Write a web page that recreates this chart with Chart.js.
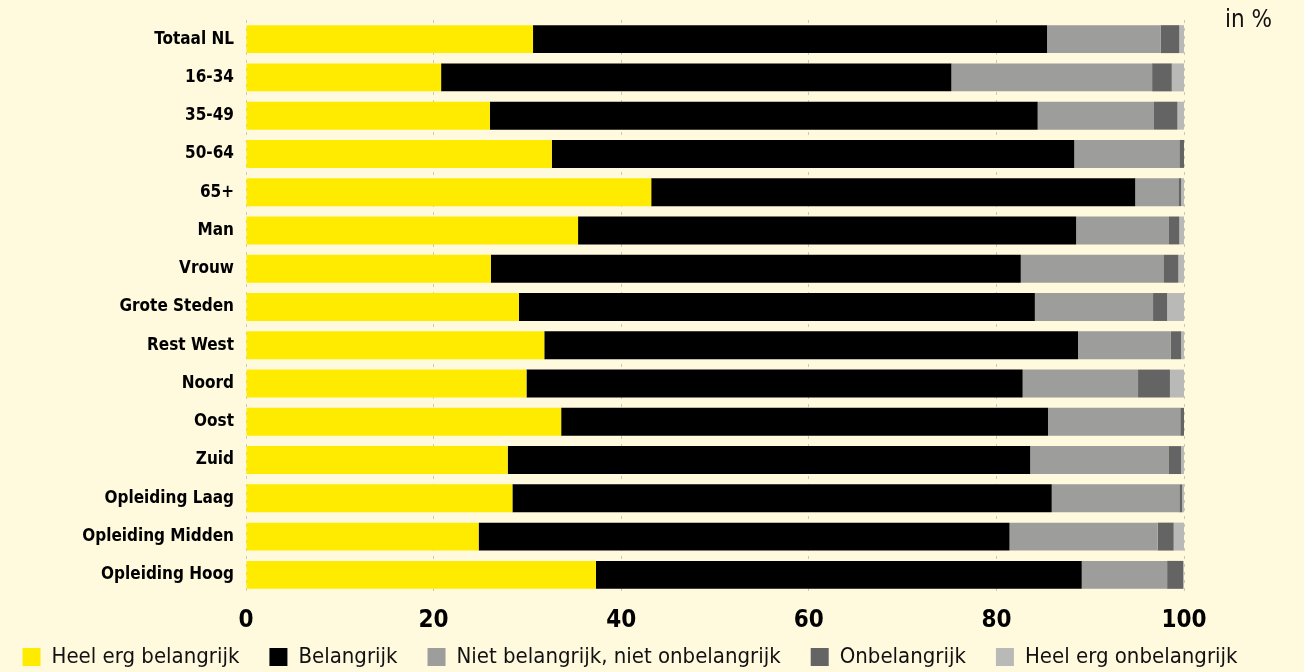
<!DOCTYPE html>
<html>
<head>
<meta charset="utf-8">
<script src="https://cdn.jsdelivr.net/npm/chart.js@4.4.1/dist/chart.umd.min.js"></script>
<style>
  html, body { margin: 0; padding: 0; background: #fff9de; }
  #wrap { position: relative; width: 1304px; height: 672px; }
</style>
</head>
<body>
<div id="wrap"><canvas id="grafiek" width="1304" height="672"></canvas></div>
<script>
const categorieen = ['Totaal NL', '16-34', '35-49', '50-64', '65+', 'Man', 'Vrouw', 'Grote Steden',
  'Rest West', 'Noord', 'Oost', 'Zuid', 'Opleiding Laag', 'Opleiding Midden', 'Opleiding Hoog'];

const heelErgBelangrijk = [30.6, 20.8, 26.0, 32.6, 43.2, 35.4, 26.1, 29.1, 31.8, 29.9, 33.6, 27.9, 28.4, 24.8, 37.3];
const belangrijk        = [54.8, 54.4, 58.4, 55.7, 51.6, 53.1, 56.5, 55.0, 56.9, 52.9, 51.9, 55.7, 57.5, 56.6, 51.8];
const nietNiet          = [12.1, 21.4, 12.4, 11.2, 4.6, 9.9, 15.2, 12.6, 9.9, 12.3, 14.1, 14.8, 13.6, 15.8, 9.1];
const onbelangrijk      = [2.0, 2.1, 2.5, 0.5, 0.3, 1.1, 1.6, 1.5, 1.1, 3.4, 0.4, 1.3, 0.3, 1.7, 1.7];
const heelErgOnbelangrijk = [0.5, 1.3, 0.7, 0, 0.3, 0.5, 0.6, 1.8, 0.3, 1.5, 0, 0.3, 0.2, 1.1, 0.1];

const xTicks = [0, 20, 40, 60, 80, 100];

const fontSmal = "'Liberation Sans Narrow', 'Arial Narrow', 'DejaVu Sans Condensed', sans-serif";

const eenheidPlugin = {
  id: 'eenheid',
  afterLayout(chart) {
    // legenda iets lager en naar links, zoals in het origineel
    const lg = chart.legend;
    if (lg) {
      lg.top = 616;
      lg.left -= 22;
      lg.right -= 22;
    }
  },
  afterDraw(chart) {
    const ctx = chart.ctx;
    ctx.save();
    ctx.font = '24px ' + fontSmal;
    ctx.fillStyle = '#111';
    ctx.textAlign = 'left';
    ctx.textBaseline = 'middle';
    ctx.fillText('in %', 1225, 21);
    ctx.restore();
  }
};

function reeks(label, data, kleur) {
  return {
    label: label,
    data: data,
    backgroundColor: kleur,
    borderWidth: 0,
    barPercentage: 0.73,
    categoryPercentage: 1
  };
}

new Chart(document.getElementById('grafiek').getContext('2d'), {
  type: 'bar',
  data: {
    labels: categorieen,
    datasets: [
      reeks('Heel erg belangrijk', heelErgBelangrijk, '#ffeb00'),
      reeks('Belangrijk', belangrijk, '#000000'),
      reeks('Niet belangrijk, niet onbelangrijk', nietNiet, '#9d9d9b'),
      reeks('Onbelangrijk', onbelangrijk, '#646464'),
      reeks('Heel erg onbelangrijk', heelErgOnbelangrijk, '#b9b9b7')
    ]
  },
  options: {
    indexAxis: 'y',
    responsive: false,
    animation: false,
    layout: { padding: { left: 0, right: 0, top: 20, bottom: 0 } },
    plugins: {
      tooltip: { enabled: false },
      legend: {
        position: 'bottom',
        maxHeight: 36,
        labels: {
          boxWidth: 18,
          boxHeight: 18,
          padding: 30,
          color: '#111',
          font: { family: fontSmal, size: 22 }
        }
      }
    },
    scales: {
      x: {
        stacked: true,
        min: 0,
        max: 100,
        afterBuildTicks(scale) { scale.ticks = xTicks.map(v => ({ value: v })); },
        afterFit(scale) { scale.height = 42; },
        grid: { color: '#cdcabb', lineWidth: 1, drawTicks: false },
        border: { display: false, dash: [3, 5] },
        ticks: {
          padding: 12,
          color: '#000',
          font: { family: fontSmal, size: 24, weight: 'bold' }
        }
      },
      y: {
        stacked: true,
        afterFit(scale) { scale.width = 246; },
        grid: { display: false },
        border: { display: false },
        ticks: {
          padding: 4,
          color: '#000',
          font: { family: fontSmal, size: 17, weight: 'bold' }
        }
      },
      rechts: {
        type: 'linear',
        position: 'right',
        afterFit(scale) { scale.width = 120; },
        grid: { display: false },
        border: { display: false },
        ticks: { display: false }
      }
    }
  },
  plugins: [eenheidPlugin]
});
</script>
</body>
</html>
